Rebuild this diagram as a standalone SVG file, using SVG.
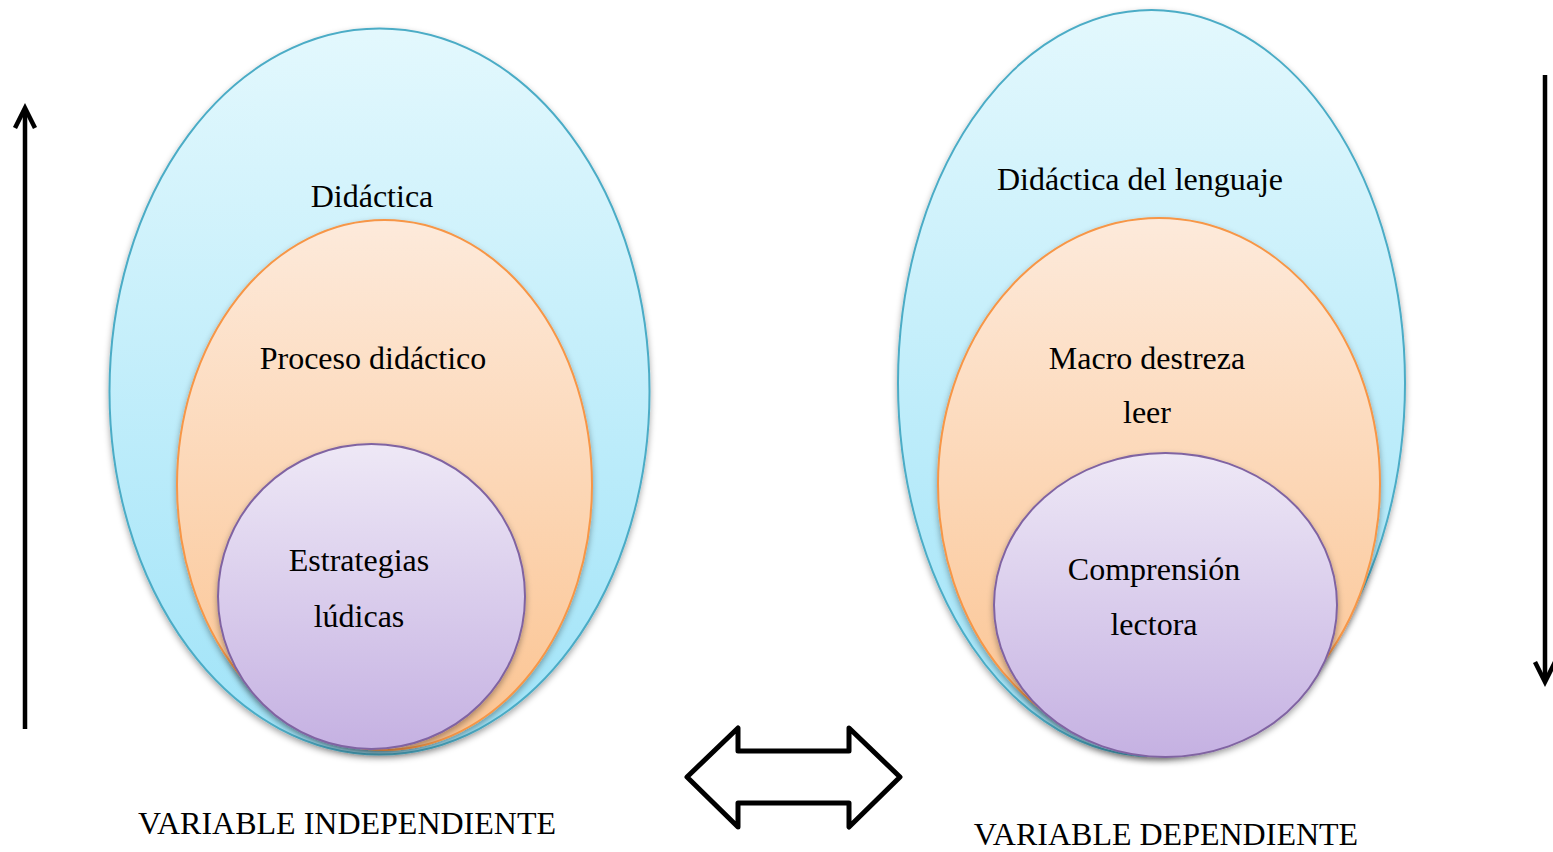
<svg xmlns="http://www.w3.org/2000/svg" width="1553" height="852" viewBox="0 0 1553 852">
<style>
.t{font-family:"Liberation Serif","Times New Roman",serif;font-size:32px;fill:#000;text-anchor:middle}
.blue{fill:url(#gBlue);stroke:#4bacc6;stroke-width:2}
.orange{fill:url(#gOrange);stroke:#f79646;stroke-width:2}
.purple{fill:url(#gPurple);stroke:#8064a2;stroke-width:2}
.ln{stroke:#000;stroke-width:4.5;fill:none}
</style>
<defs>
<linearGradient id="gBlue" x1="0" y1="0" x2="0" y2="1"><stop offset="0" stop-color="#e3f8fd"/><stop offset="1" stop-color="#9fe3f8"/></linearGradient>
<linearGradient id="gOrange" x1="0" y1="0" x2="0" y2="1"><stop offset="0" stop-color="#fdeadb"/><stop offset="1" stop-color="#fbc390"/></linearGradient>
<linearGradient id="gPurple" x1="0" y1="0" x2="0" y2="1"><stop offset="0" stop-color="#eee8f6"/><stop offset="1" stop-color="#c5b1e2"/></linearGradient>
<filter id="sh" x="-10%" y="-10%" width="120%" height="120%"><feDropShadow dx="0" dy="3" stdDeviation="3" flood-color="#000" flood-opacity="0.35"/></filter>
</defs>
<g id="left-outer"><ellipse class="blue" filter="url(#sh)" cx="379.5" cy="391.5" rx="270" ry="363"/><text class="t" x="372" y="207">Didáctica</text></g>
<g id="left-middle"><ellipse class="orange" filter="url(#sh)" cx="384.5" cy="485" rx="207.5" ry="265"/><text class="t" x="373" y="369">Proceso didáctico</text></g>
<g id="left-inner"><ellipse class="purple" filter="url(#sh)" cx="371.5" cy="596.5" rx="153.5" ry="152.5"/><text class="t" x="359" y="571">Estrategias</text><text class="t" x="359" y="627">lúdicas</text></g>
<g id="right-outer"><ellipse class="blue" filter="url(#sh)" cx="1151.5" cy="383" rx="253.5" ry="373"/><text class="t" x="1140" y="190">Didáctica del lenguaje</text></g>
<g id="right-middle"><ellipse class="orange" filter="url(#sh)" cx="1159" cy="484" rx="221" ry="266"/><text class="t" x="1147" y="369">Macro destreza</text><text class="t" x="1147" y="423">leer</text></g>
<g id="right-inner"><ellipse class="purple" filter="url(#sh)" cx="1165.5" cy="605" rx="171.5" ry="152"/><text class="t" x="1154" y="580">Comprensión</text><text class="t" x="1154" y="635">lectora</text></g>
<g id="label-independiente"><text class="t" x="347" y="834">VARIABLE INDEPENDIENTE</text></g>
<g id="label-dependiente"><text class="t" x="1166" y="845">VARIABLE DEPENDIENTE</text></g>
<g id="connectors">
<line class="ln" x1="25" y1="729" x2="25" y2="109"/>
<polyline class="ln" points="15,128 25,108 35,128"/>
<line class="ln" x1="1545" y1="75" x2="1545" y2="681"/>
<polyline class="ln" points="1535,662 1545,682 1555,662"/>
<path d="M687,777 L738,728 L738,751 L849,751 L849,728 L900,777 L849,827 L849,803 L738,803 L738,827 Z" fill="#fff" stroke="#000" stroke-width="5" stroke-linejoin="round"/>
</g>
</svg>
